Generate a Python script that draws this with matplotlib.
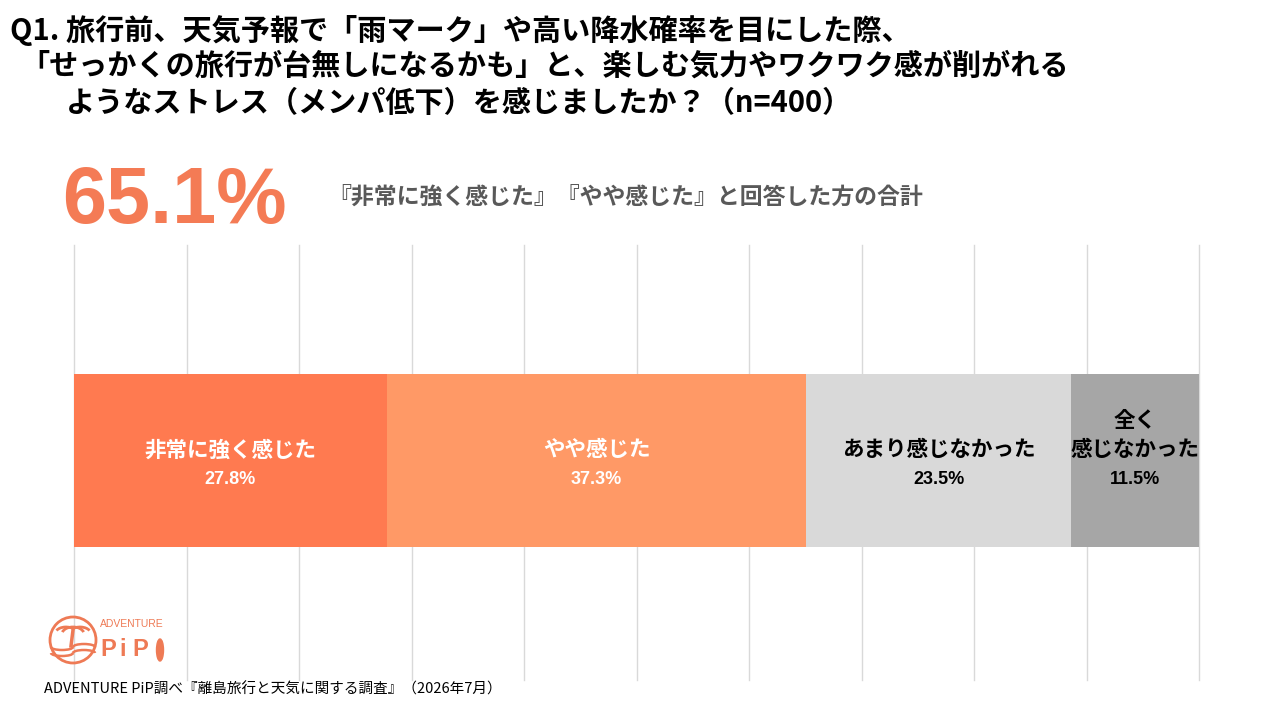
import matplotlib
matplotlib.use("Agg")
import matplotlib.pyplot as plt
from matplotlib.patches import Circle, Arc, Ellipse

plt.rcParams['font.family'] = ['Noto Sans CJK JP', 'DejaVu Sans']

# 回答の内訳 (n=400)
categories = ['非常に強く感じた', 'やや感じた', 'あまり感じなかった', '全く\n感じなかった']
values = [27.8, 37.3, 23.5, 11.5]
colors = ['#FF7A50', '#FF9966', '#D9D9D9', '#A6A6A6']
text_colors = ['white', 'white', 'black', 'black']

total_label = '65.1%'
title_lines = [
    'Q1. 旅行前、天気予報で「雨マーク」や高い降水確率を目にした際、',
    '「せっかくの旅行が台無しになるかも」と、楽しむ気力やワクワク感が削がれる',
    'ようなストレス（メンパ低下）を感じましたか？（n=400）',
]
subtitle = '『非常に強く感じた』『やや感じた』と回答した方の合計'
footer = 'ADVENTURE PiP調べ『離島旅行と天気に関する調査』（2026年7月）'

W, H = 1280, 720
fig = plt.figure(figsize=(12.8, 7.2), dpi=100)
fig.patch.set_facecolor('white')

def fx(px):
    return px / W

def fy(py):
    return 1 - py / H

narrow = ['Liberation Sans', 'DejaVu Sans']

# 棒グラフ部分
ax = fig.add_axes([fx(74), fy(680), fx(1199) - fx(74), fy(245) - fy(680)])
ax.set_xlim(0, 100)
ax.set_ylim(-0.5075, 0.498)
for x in range(0, 101, 10):
    ax.axvline(x, color='#D9D9D9', lw=1, zorder=0, clip_on=False)

left = 0
for cat, v, c, tc in zip(categories, values, colors, text_colors):
    ax.barh(0, v, left=left, height=0.4, color=c, zorder=2)
    cx = left + v / 2
    lines = cat.split('\n')
    for i, line in enumerate(reversed(lines)):
        ax.annotate(line, xy=(cx, 0), xytext=(0, 7.6 + i * 20.9),
                    textcoords='offset points', ha='center', va='center',
                    fontsize=15.5, fontweight='bold', color=tc, zorder=3)
    ax.annotate(f'{v:.1f}%', xy=(cx, 0), xytext=(0, -14),
                textcoords='offset points', ha='center', va='center',
                fontsize=13, fontweight='bold', color=tc, zorder=3,
                family=narrow)
    left += v

ax.axis('off')

# タイトル
fig.text(fx(10), fy(30), title_lines[0], fontsize=21, fontweight='bold',
         ha='left', va='center', color='black')
fig.text(fx(20), fy(66), title_lines[1], fontsize=21, fontweight='bold',
         ha='left', va='center', color='black')
fig.text(fx(66), fy(103), title_lines[2], fontsize=21, fontweight='bold',
         ha='left', va='center', color='black')

# 合計
fig.text(fx(62), fy(203), total_label, fontsize=57, fontweight='bold',
         ha='left', va='center', color='#F47B55', family=narrow)
fig.text(fx(328), fy(197), subtitle, fontsize=16.5, fontweight='bold',
         ha='left', va='center', color='#595959')

# ロゴ
lax = fig.add_axes([fx(40), fy(675), fx(140), fy(600) - fy(675)])
lax.set_xlim(0, 140)
lax.set_ylim(75, 0)
lax.set_aspect('equal')
lax.axis('off')
logo_c = '#EE7A55'
lax.add_patch(Circle((33, 40), 23, fill=False, ec=logo_c, lw=2))
# ヤシの葉
for cxl, t1, t2 in [(26, 200, 330), (40, 210, 340), (33, 190, 350)]:
    lax.add_patch(Arc((cxl, 34), 22, 14, theta1=t1, theta2=t2, ec=logo_c, lw=2))
lax.plot([33, 31], [30, 46], color=logo_c, lw=2.5)
# 波
for yy in (47, 53):
    lax.add_patch(Arc((22, yy), 22, 6, theta1=0, theta2=180, ec=logo_c, lw=1.8))
    lax.add_patch(Arc((44, yy), 22, 6, theta1=180, theta2=360, ec=logo_c, lw=1.8))
lax.text(60, 24, 'ADVENTURE', fontsize=7.5, color=logo_c, ha='left', va='center',
         family=narrow)
lax.text(60, 50, 'P', fontsize=17, fontweight='bold', color=logo_c,
         ha='left', va='center', family=narrow)
lax.text(79, 50, 'i', fontsize=17, fontweight='bold', color=logo_c,
         ha='left', va='center', family=narrow)
lax.text(92, 50, 'P', fontsize=17, fontweight='bold', color=logo_c,
         ha='left', va='center', family=narrow)
lax.add_patch(Ellipse((120, 50), 7, 22, color=logo_c))

# 出典
fig.text(fx(44), fy(689), footer, fontsize=10.5, ha='left', va='center', color='black')

fig.savefig('out.png', dpi=100, facecolor='white')
